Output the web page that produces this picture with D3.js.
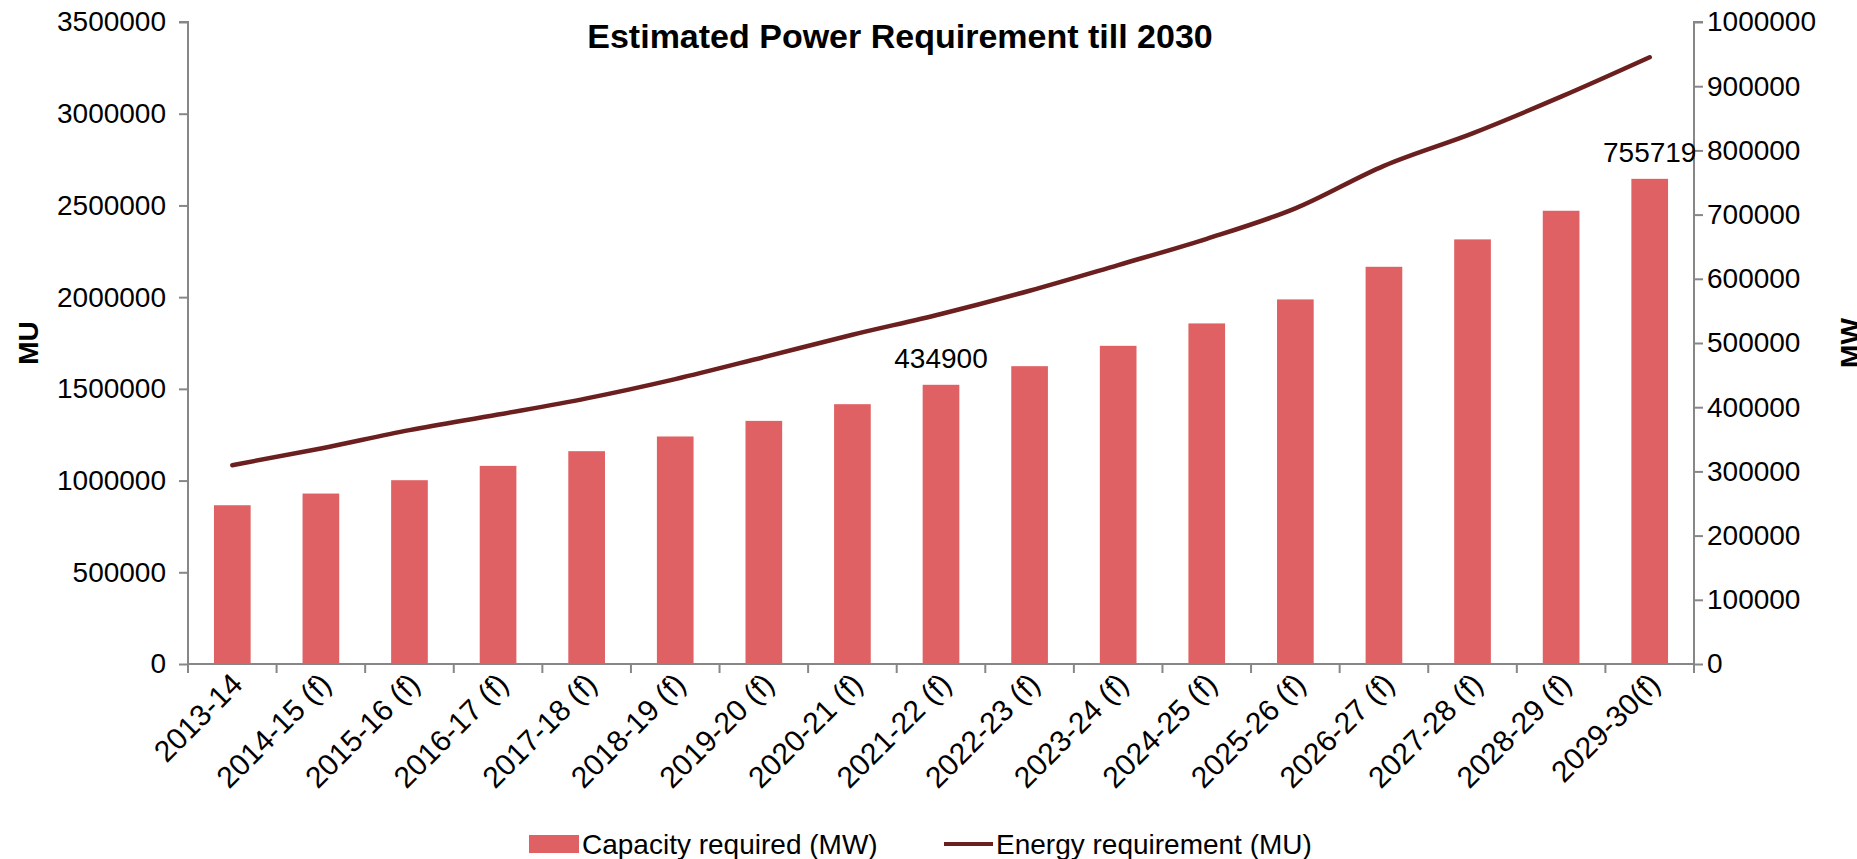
<!DOCTYPE html>
<html>
<head>
<meta charset="utf-8">
<script src="https://cdn.jsdelivr.net/npm/d3@7"></script>
<style>
  body { margin: 0; background: #fff; }
  text { font-family: Arial, "Liberation Sans", sans-serif; fill: #000; }
  .axis path, .axis line { stroke: #878787; stroke-width: 2; }
</style>
</head>
<body>
<div id="chart"></div>
<script>
var years = ["2013-14", "2014-15 (f)", "2015-16 (f)", "2016-17 (f)", "2017-18 (f)",
    "2018-19 (f)", "2019-20 (f)", "2020-21 (f)", "2021-22 (f)", "2022-23 (f)",
    "2023-24 (f)", "2024-25 (f)", "2025-26 (f)", "2026-27 (f)", "2027-28 (f)",
    "2028-29 (f)", "2029-30(f)"];

// MW, right axis
var capacity = [247300, 265500, 286300, 308600, 331500, 354400, 378700, 404700,
    434900, 463900, 495600, 530500, 567900, 618700, 661400, 706000, 755719];

// MU, left axis
var energy = [1084000, 1175000, 1275000, 1360000, 1448000, 1553000, 1673000, 1795000,
    1908000, 2035000, 2175000, 2318000, 2484000, 2716000, 2893000, 3093000, 3308000];

var labelled = [8, 16];

var leftTicks = [0, 500000, 1000000, 1500000, 2000000, 2500000, 3000000, 3500000];
var rightTicks = [0, 100000, 200000, 300000, 400000, 500000, 600000, 700000, 800000, 900000, 1000000];

var width = 1857,
    height = 859;

var plotL = 188, plotR = 1694, plotT = 22, plotB = 664;

var svg = d3.select("#chart")
    .append("svg")
    .attr("width", width)
    .attr("height", height);

var x = d3.scaleBand()
    .domain(years)
    .range([plotL, plotR])
    .padding(0);

var yLeft = d3.scaleLinear().domain([0, 3500000]).range([plotB, plotT]);
var yRight = d3.scaleLinear().domain([0, 1000000]).range([plotB, plotT]);

var bw = x.bandwidth();
var barW = bw * 0.414;

/* ------- BARS -------*/
svg.append("g")
    .selectAll("rect")
    .data(capacity)
    .enter()
    .append("rect")
    .attr("x", function (d, i) { return x(years[i]) + (bw - barW) / 2; })
    .attr("y", function (d) { return yRight(d); })
    .attr("width", barW)
    .attr("height", function (d) { return plotB - yRight(d); })
    .style("fill", "#e06163");

/* ------- AXES -------*/
svg.append("g")
    .attr("class", "axis")
    .attr("transform", "translate(" + plotL + ",0)")
    .call(d3.axisLeft(yLeft).tickValues(leftTicks).tickSize(9).tickPadding(13).tickFormat(d3.format("d")))
    .call(function (g) {
        g.select(".domain").attr("d", "M-9," + plotT + "H0V" + plotB);
        g.selectAll("text").style("font-size", "28px").style("font-family", null);
    });

svg.append("g")
    .attr("class", "axis")
    .attr("transform", "translate(" + plotR + ",0)")
    .call(d3.axisRight(yRight).tickValues(rightTicks).tickSize(9).tickPadding(4).tickFormat(d3.format("d")))
    .call(function (g) {
        g.select(".domain").attr("d", "M9," + plotT + "H0V" + plotB);
        g.selectAll("text").style("font-size", "28px").style("font-family", null);
    });

var xAxis = svg.append("g")
    .attr("class", "axis")
    .attr("transform", "translate(0," + plotB + ")")
    .call(d3.axisBottom(x).tickSize(0))
    .call(function (g) {
        g.select(".domain").attr("d", "M" + plotL + ",0H" + plotR);
        g.selectAll("text")
            .style("font-size", "30px")
            .style("font-family", null)
            .attr("text-anchor", "end")
            .attr("y", 0)
            .attr("dy", 0)
            .attr("transform", "translate(12,22) rotate(-45)");
    });

// tick marks sit on the category boundaries
xAxis.selectAll("line.bound")
    .data(years.concat([null]))
    .enter()
    .append("line")
    .attr("class", "bound")
    .attr("x1", function (d) { return d === null ? plotR : x(d); })
    .attr("x2", function (d) { return d === null ? plotR : x(d); })
    .attr("y1", 0)
    .attr("y2", 9);

/* ------- LINE -------*/
var line = d3.line()
    .x(function (d, i) { return x(years[i]) + bw / 2; })
    .y(function (d) { return yLeft(d); })
    .curve(d3.curveMonotoneX);

svg.append("path")
    .datum(energy)
    .attr("d", line)
    .attr("fill", "none")
    .attr("stroke", "#6b1f1f")
    .attr("stroke-width", 4.5)
    .attr("stroke-linejoin", "round")
    .attr("stroke-linecap", "round");

/* ------- DATA LABELS -------*/
svg.append("g")
    .selectAll("text")
    .data(labelled)
    .enter()
    .append("text")
    .attr("x", function (i) { return x(years[i]) + bw / 2; })
    .attr("y", function (i) { return yRight(capacity[i]) - 17; })
    .attr("text-anchor", "middle")
    .style("font-size", "28px")
    .text(function (i) { return capacity[i]; });

/* ------- TITLES -------*/
svg.append("text")
    .attr("x", 900)
    .attr("y", 48)
    .attr("text-anchor", "middle")
    .style("font-size", "34px")
    .style("font-weight", "bold")
    .text("Estimated Power Requirement till 2030");

svg.append("text")
    .attr("transform", "translate(38," + (plotT + plotB) / 2 + ") rotate(-90)")
    .attr("text-anchor", "middle")
    .style("font-size", "28px")
    .style("font-weight", "bold")
    .text("MU");

svg.append("text")
    .attr("transform", "translate(1860," + (plotT + plotB) / 2 + ") rotate(-90)")
    .attr("text-anchor", "middle")
    .style("font-size", "28px")
    .style("font-weight", "bold")
    .text("MW");

/* ------- LEGEND -------*/
var legend = svg.append("g");

legend.append("rect")
    .attr("x", 529)
    .attr("y", 835)
    .attr("width", 50)
    .attr("height", 18)
    .style("fill", "#e06163");

legend.append("text")
    .attr("x", 582)
    .attr("y", 854)
    .style("font-size", "28px")
    .text("Capacity required (MW)");

legend.append("line")
    .attr("x1", 944)
    .attr("x2", 993)
    .attr("y1", 844)
    .attr("y2", 844)
    .attr("stroke", "#6b1f1f")
    .attr("stroke-width", 4);

legend.append("text")
    .attr("x", 996)
    .attr("y", 854)
    .style("font-size", "28px")
    .text("Energy requirement (MU)");
</script>
</body>
</html>
